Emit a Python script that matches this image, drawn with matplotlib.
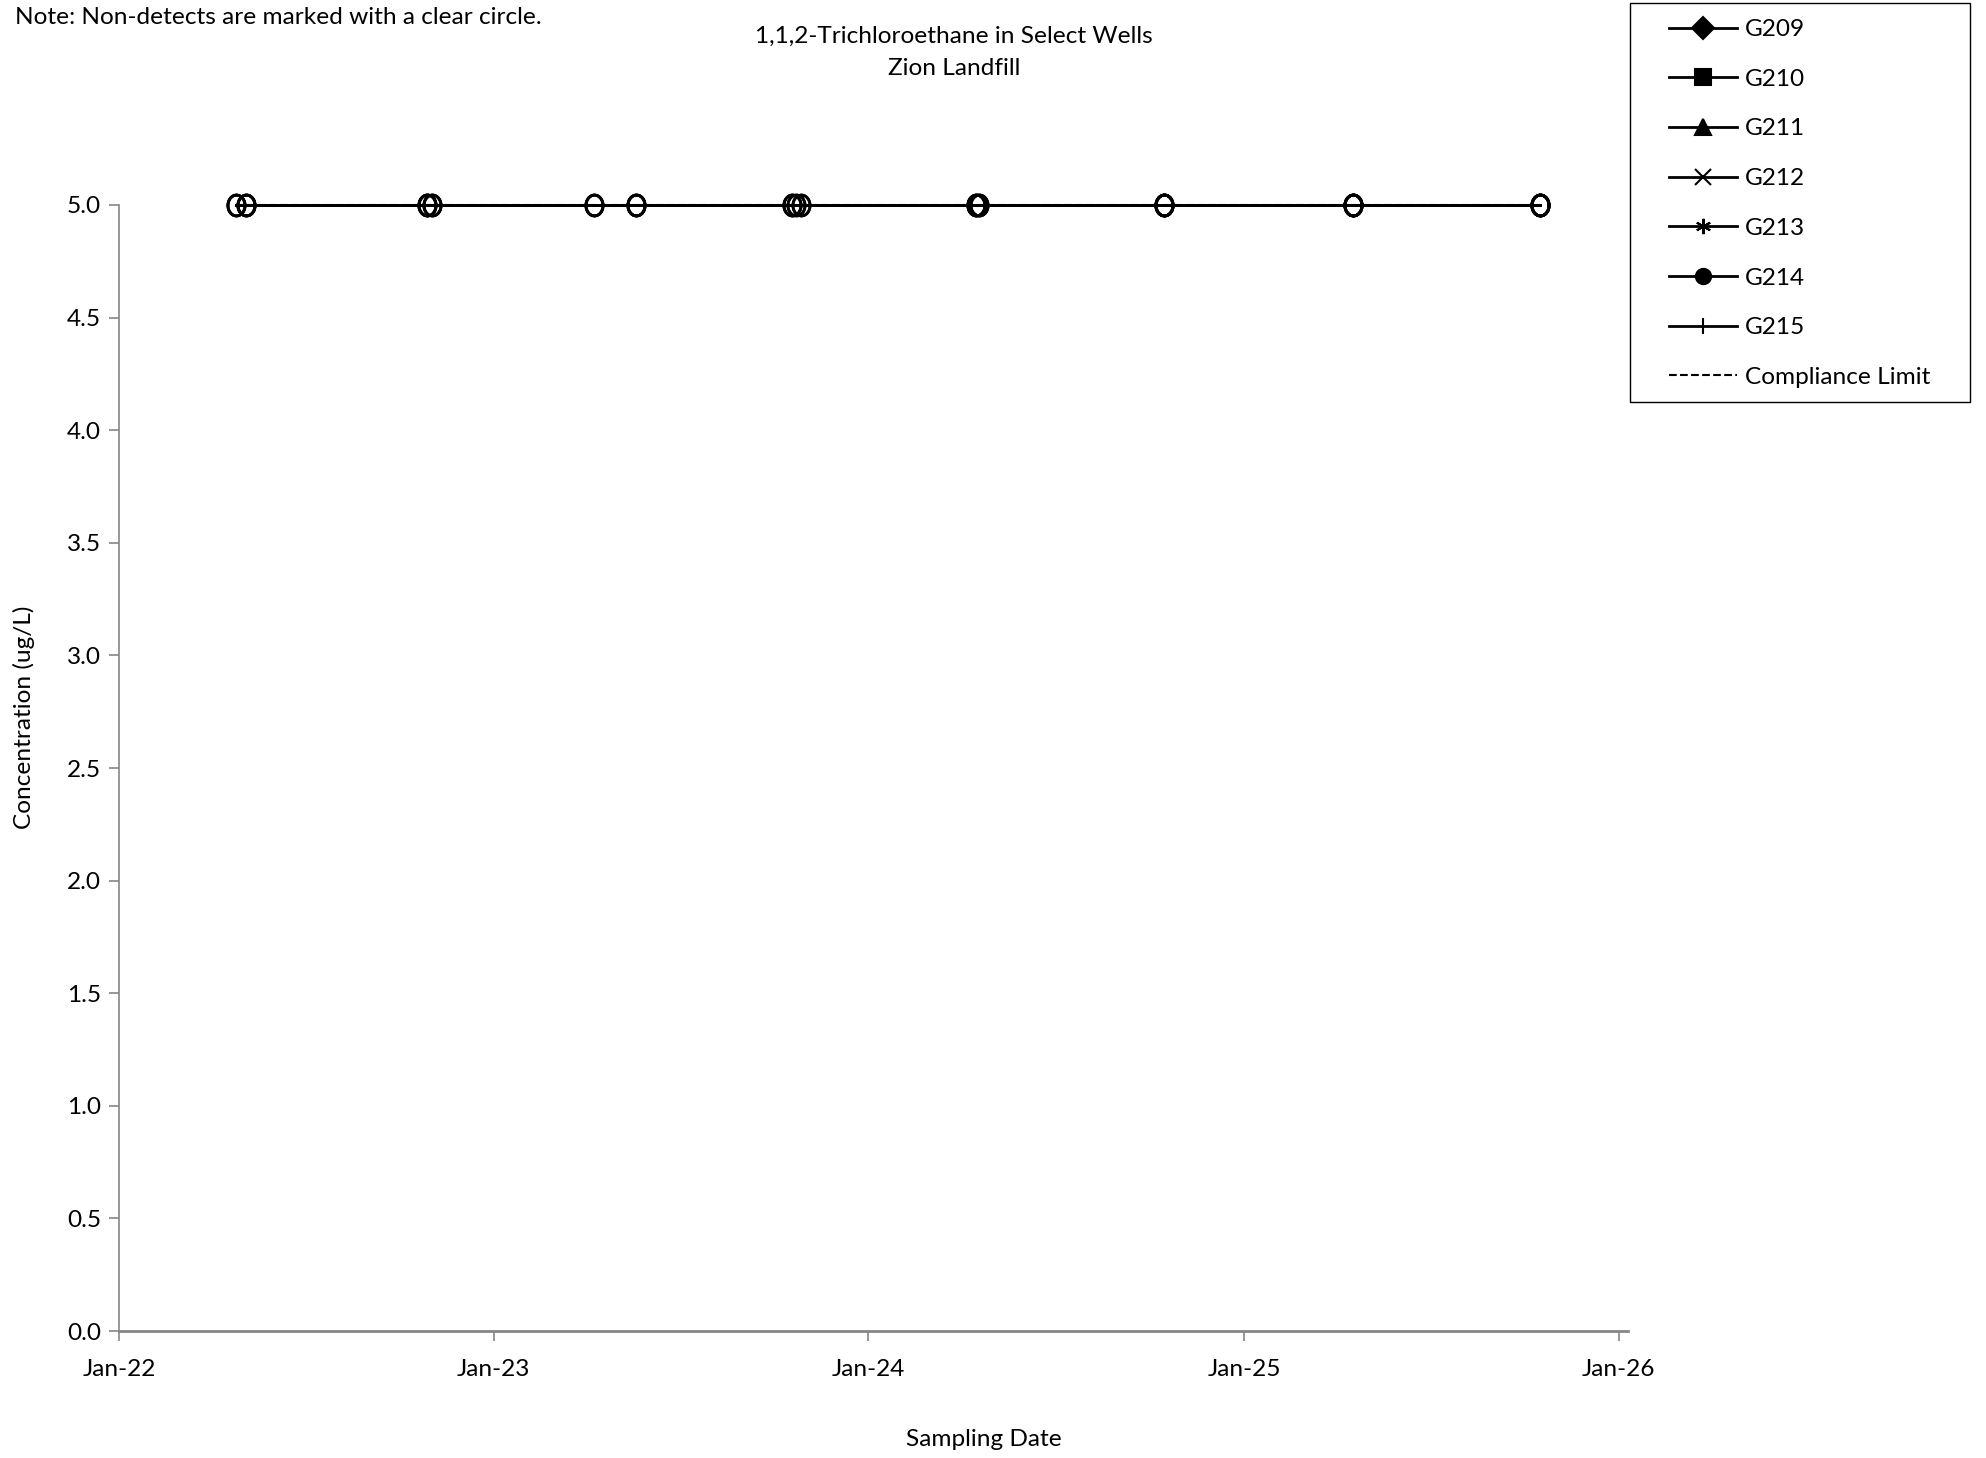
"""1,1,2-Trichloroethane in select wells, Zion Landfill (time series)."""
import matplotlib
matplotlib.use("Agg")
import matplotlib.pyplot as plt
import matplotlib.dates as mdates
import numpy as np
import pandas as pd
from matplotlib.lines import Line2D
from matplotlib.patches import Rectangle
from matplotlib.path import Path

plt.rcParams["font.family"] = ["Lato", "DejaVu Sans"]
FS = 17.6

# --- data: every result is a non-detect at the 5.0 ug/L reporting limit ---
wells = ["G209", "G210", "G211", "G212", "G213", "G214", "G215"]
markers = ["D", "s", "^", "x", (6, 2, 0), "o", "|"]

g209_dates = ["2022-04-25", "2022-10-28", "2023-04-09", "2023-10-19", "2024-04-15", "2024-10-15", "2025-04-17", "2025-10-16"]
g210_dates = ["2022-04-25", "2022-10-28", "2023-04-09", "2023-10-19", "2024-04-15", "2024-10-15", "2025-04-17", "2025-10-16"]
g211_dates = ["2022-05-05", "2022-11-02", "2023-05-20", "2023-10-23", "2024-04-18", "2024-10-15", "2025-04-17", "2025-10-16"]
g212_dates = ["2022-05-05", "2022-11-02", "2023-05-20", "2023-10-23", "2024-04-18", "2024-10-15", "2025-04-17", "2025-10-16"]
g213_dates = ["2022-05-05", "2022-10-28", "2023-05-20", "2023-10-27", "2024-04-15", "2024-10-15", "2025-04-17", "2025-10-16"]
g214_dates = ["2022-05-05", "2022-11-02", "2023-04-09", "2023-10-27", "2024-04-18", "2024-10-15", "2025-04-17", "2025-10-16"]
g215_dates = ["2022-04-25", "2022-10-28", "2023-05-20", "2023-10-19", "2024-04-15", "2024-10-15", "2025-04-17", "2025-10-16"]
well_dates = [g209_dates, g210_dates, g211_dates, g212_dates, g213_dates, g214_dates, g215_dates]

well_values = [[5.0] * 8 for _ in wells]
compliance_limit = 5.0

# slightly tall open ellipse, like the Excel "clear circle"
_t = np.linspace(0, 2 * np.pi, 60)
nd_marker = Path(np.column_stack([0.82 * np.cos(_t), np.sin(_t)]))

# --- figure ---
fig = plt.figure(figsize=(19.86, 14.58), dpi=100)
ax = fig.add_axes([0.0599, 0.0871, 0.7598, 0.7723])

all_dates = []
for name, dates, vals in zip(wells, well_dates, well_values):
    d = pd.to_datetime(dates)
    all_dates.extend(d)
    ax.plot(d, vals, color="black", lw=2.0, zorder=3, clip_on=False)
    # non-detects: clear circle
    ax.plot(d, vals, ls="none", marker=nd_marker, ms=15, mfc="none", mec="black",
            mew=2.0, zorder=4, clip_on=False)

lim_x = [min(all_dates), max(all_dates)]
ax.plot(lim_x, [compliance_limit] * 2, color="black", ls="--", lw=1.5, zorder=2,
        clip_on=False)

ax.set_ylim(0, 5.0)
ax.set_yticks([i * 0.5 for i in range(11)])
ax.yaxis.set_major_formatter(matplotlib.ticker.FormatStrFormatter("%.1f"))
ax.set_xlim(pd.Timestamp("2022-01-01"), pd.Timestamp("2026-01-10"))
ax.set_xticks(pd.to_datetime(["2022-01-01", "2023-01-01", "2024-01-01", "2025-01-01", "2026-01-01"]))
ax.xaxis.set_major_formatter(mdates.DateFormatter("%b-%y"))

for side in ("top", "right"):
    ax.spines[side].set_visible(False)
for side in ("left", "bottom"):
    ax.spines[side].set_color("#868686")
ax.spines["left"].set_linewidth(1.2)
ax.spines["bottom"].set_linewidth(2.0)
ax.tick_params(axis="both", direction="out", length=7, width=1.2, color="#868686",
               labelsize=FS, pad=6)
ax.tick_params(axis="x", pad=13)

fig.text(0.0075, 0.9878, "Note: Non-detects are marked with a clear circle.",
         fontsize=FS, ha="left", va="center")
fig.text(0.4805, 0.9748, "1,1,2-Trichloroethane in Select Wells", fontsize=FS,
         ha="center", va="center")
fig.text(0.4805, 0.9530, "Zion Landfill", fontsize=FS, ha="center", va="center")
fig.text(0.0120, 0.508, "Concentration (ug/L)", fontsize=FS, rotation=90,
         ha="center", va="center")
fig.text(0.4955, 0.0125, "Sampling Date", fontsize=FS, ha="center", va="center")

# legend: frame drawn separately so the inner padding matches the original
fig.add_artist(Rectangle((0.8207, 0.7243), 0.1713, 0.2737, transform=fig.transFigure,
                         fill=False, edgecolor="black", lw=1.0))
handles = [Line2D([], [], color="black", lw=2.0, marker=m, ms=11, mfc="black",
                  mec="black", mew=1.5) for m in markers]
handles.append(Line2D([], [], color="black", lw=1.5, ls="--"))
fig.legend(handles, wells + ["Compliance Limit"], loc="upper left",
           bbox_to_anchor=(0.8404, 0.9870), frameon=False, fontsize=FS,
           handlelength=2.8, labelspacing=1.17, borderpad=0, handletextpad=0.3,
           borderaxespad=0)

fig.savefig("out.png", dpi=100)
